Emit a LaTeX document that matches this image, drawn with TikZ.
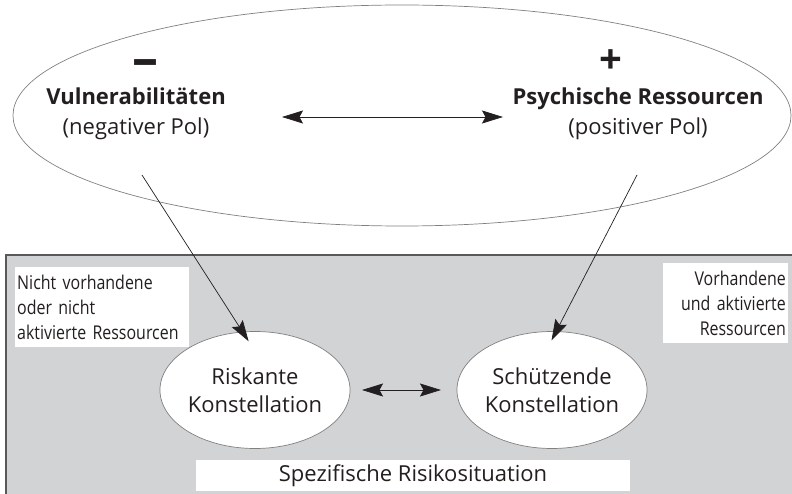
\documentclass[tikz,border=0pt]{standalone}
\usepackage{fontspec}
\setmainfont{Open Sans}
\newfontfamily\condfont[FakeStretch=0.84]{Open Sans}
\usepackage{tikz}
\usetikzlibrary{shapes,arrows.meta,positioning}
\definecolor{fieldgray}{HTML}{D1D3D4}
\definecolor{edgegray}{HTML}{58595B}
\definecolor{inkblack}{HTML}{231F20}

\begin{document}
\begin{tikzpicture}[x=1pt, y=-1pt, text=inkblack,
    link/.style={draw=inkblack, line width=0.7pt, {Stealth[length=21pt,width=13pt,inset=3.5pt]}-{Stealth[length=21pt,width=13pt,inset=3.5pt]}},
    feed/.style={draw=inkblack, line width=0.7pt, -{Stealth[length=21pt,width=13pt,inset=3.5pt]}},
    constellation/.style={draw=gray, line width=0.7pt, fill=white, ellipse, inner sep=0pt, outer sep=0pt, minimum width=166pt, minimum height=117pt, align=center, font=\fontsize{22}{28}\selectfont},
    note/.style={fill=white, inner xsep=2pt, inner ysep=0pt, minimum height=80pt, font=\condfont\fontsize{19}{25}\selectfont}]
    \useasboundingbox (0,0) rectangle (792,494);
    \clip (0,0) rectangle (792,494);

    \draw[draw=edgegray, line width=1.4pt, fill=fieldgray] (6,255) rectangle (800,500);

    \node[draw=gray, line width=0.7pt, ellipse, inner sep=0pt, outer sep=0pt, minimum width=778pt, minimum height=221pt] (pole) at (402,115.5) {};
    \node[anchor=base, font=\bfseries\fontsize{52}{52}\selectfont] (minus) at (145,77) {–};
    \node[anchor=base, font=\bfseries\fontsize{40}{40}\selectfont] (plus) at (611,74) {+};
    \node[align=center, font=\fontsize{22}{30}\selectfont] (vuln) at (136,114) {\textbf{Vulnerabilitäten}\\(negativer Pol)};
    \node[align=center, font=\fontsize{22}{30}\selectfont] (psych) at (638,114) {\textbf{Psychische Ressourcen}\\(positiver Pol)};
    \coordinate (topleft) at (282,117);
    \coordinate (topright) at (503,117);
    \coordinate (vulnfoot) at (142,175);
    \coordinate (psychfoot) at (637,175);

    \node[constellation] (risk) at (255,390) {Riskante\\Konstellation};
    \node[constellation] (protect) at (552,390) {Schützende\\Konstellation};

    \node[note, anchor=north west, minimum width=174pt, text width=170pt, align=left] (leftnote) at (15,267) {Nicht vorhandene\\oder nicht\\aktivierte Ressourcen};
    \node[note, anchor=north east, minimum width=125pt, text width=121pt, align=right] (rightnote) at (788,263) {Vorhandene\\und aktivierte\\Ressourcen};
    \node[fill=white, inner sep=0pt, minimum width=434pt, minimum height=31pt, font=\fontsize{22}{24}\selectfont] (situation) at (413,475.5) {Spezifische Risikosituation};

    \draw[link] (topleft) -- (topright);
    \draw[feed, shorten >=-11pt] (vulnfoot) -- (risk.102);
    \draw[feed, shorten >=-10pt] (psychfoot) -- (protect.86);
    \draw[link, shorten <=12pt, shorten >=16pt] (risk) -- (protect);
\end{tikzpicture}
\end{document}
